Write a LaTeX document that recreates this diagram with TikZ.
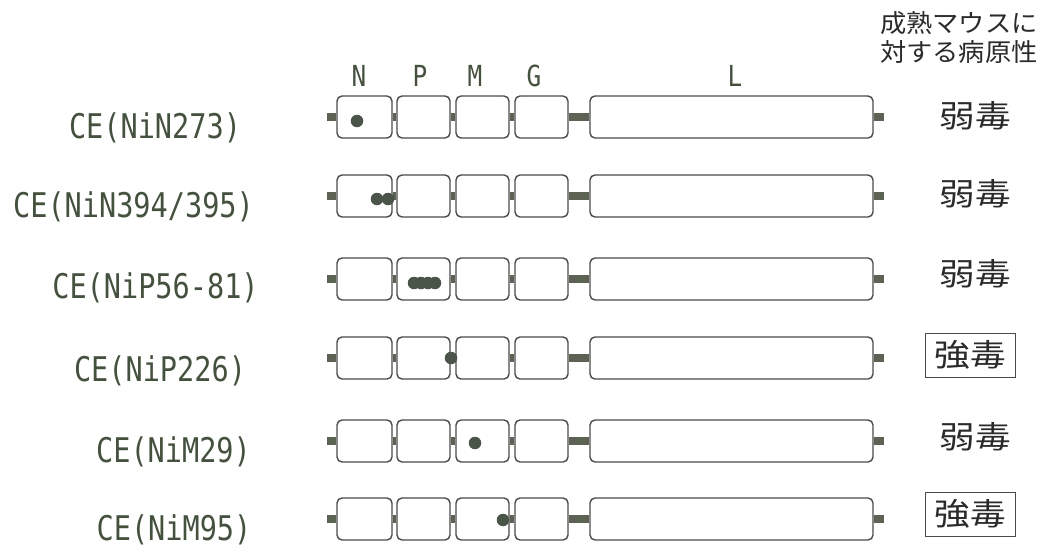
\documentclass[tikz,border=0pt]{standalone}
\usepackage{fontspec}
\usepackage{graphicx}
\usetikzlibrary{backgrounds}
\newfontfamily\monof{DejaVu Sans Mono}
\newfontfamily\cjkf{Noto Sans CJK JP}
\definecolor{boxc}{HTML}{4A4A4A}
\definecolor{stubc}{HTML}{5C6254}
\definecolor{dotc}{HTML}{4B5449}
\definecolor{labc}{HTML}{45513F}
\definecolor{cjkc}{HTML}{2A2A2A}
\newcommand\mylab[1]{\scalebox{0.84}[1]{#1}}
\newcommand\mycjk[1]{\scalebox{1.15}[1]{#1}}
\newcommand\myhead[1]{\scalebox{1.05}[1]{#1}}
\tikzset{
  gene/.style={draw=boxc, line width=1.4pt, rounded corners=5pt, fill=white,
               minimum height=42pt, inner sep=0pt},
  stub/.style={draw=stubc, line width=8pt},
  dotm/.style={circle, fill=dotc, inner sep=0pt, minimum size=12.5pt},
  lab/.style={text=labc, font=\monof\fontsize{34}{34}\selectfont, inner sep=0pt},
  hdr/.style={text=labc, font=\monof\fontsize{29}{29}\selectfont, inner sep=0pt},
  tox/.style={text=cjkc, font=\cjkf\fontsize{31}{31}\selectfont, inner sep=0pt},
  toxbox/.style={draw=boxc, line width=0.9pt, minimum width=90pt, minimum height=44pt},
  head/.style={text=cjkc, font=\cjkf\fontsize{25}{25}\selectfont, inner sep=0pt, anchor=west}
}
\newcommand\genome[2]{%
  \node[gene, minimum width=55pt] (N#1) at (364.5,#2) {};
  \node[gene, minimum width=53pt] (P#1) at (423.5,#2) {};
  \node[gene, minimum width=53pt] (M#1) at (482.5,#2) {};
  \node[gene, minimum width=53pt] (G#1) at (541.5,#2) {};
  \node[gene, minimum width=283pt] (L#1) at (731.5,#2) {};
  \coordinate (a#1) at (327,#2);
  \coordinate (b#1) at (884,#2);
  \begin{scope}[on background layer]
    \draw[stub] (a#1) -- (N#1.west);
    \draw[stub] (N#1.east) -- (P#1.west);
    \draw[stub] (P#1.east) -- (M#1.west);
    \draw[stub] (M#1.east) -- (G#1.west);
    \draw[stub] (G#1.east) -- (L#1.west);
    \draw[stub] (L#1.east) -- (b#1);
  \end{scope}
}
\begin{document}
\begin{tikzpicture}[x=1pt,y=-1pt]
\begin{scope}[on background layer]
\fill[white] (0,0) rectangle (1041,549);
\end{scope}
\useasboundingbox (0,0) rectangle (1041,549);

% header
\node[head] (h1) at (880,23) {\myhead{成熟マウスに}};
\node[head] (h2) at (880,52) {\myhead{対する病原性}};
\node[hdr] (hN) at (359,76) {\mylab{N}};
\node[hdr] (hP) at (420,76) {\mylab{P}};
\node[hdr] (hM) at (475,76) {\mylab{M}};
\node[hdr] (hG) at (534,76) {\mylab{G}};
\node[hdr] (hL) at (735,76) {\mylab{L}};

% rows
\genome{1}{117}
\genome{2}{196}
\genome{3}{279}
\genome{4}{358}
\genome{5}{441}
\genome{6}{519}

% labels
\node[lab] (l1) at (155,128) {\mylab{CE(NiN273)}};
\node[lab] (l2) at (133.5,207) {\mylab{CE(NiN394/395)}};
\node[lab] (l3) at (155.5,288) {\mylab{CE(NiP56-81)}};
\node[lab] (l4) at (160,371) {\mylab{CE(NiP226)}};
\node[lab] (l5) at (173.5,452) {\mylab{CE(NiM29)}};
\node[lab] (l6) at (174,530) {\mylab{CE(NiM95)}};

% dots (mutation sites)
\node[dotm] (d1) at (357,121) {};
\node[dotm] (d2a) at (377,199) {};
\node[dotm] (d2b) at (388,199) {};
\node[dotm] (d3a) at (414,283) {};
\node[dotm] (d3b) at (421,283) {};
\node[dotm] (d3c) at (428,283) {};
\node[dotm] (d3d) at (435,283) {};
\node[dotm] (d4) at (451,358) {};
\node[dotm] (d5) at (475,443) {};
\node[dotm] (d6) at (503,520) {};

% pathogenicity
\node[tox] (t1) at (975,116) {\mycjk{弱毒}};
\node[tox] (t2) at (975,194) {\mycjk{弱毒}};
\node[tox] (t3) at (975,274) {\mycjk{弱毒}};
\node[tox] (t4) at (970,355) {\mycjk{強毒}};
\node[toxbox] (bx4) at (970,355) {};
\node[tox] (t5) at (975,437) {\mycjk{弱毒}};
\node[tox] (t6) at (970,514) {\mycjk{強毒}};
\node[toxbox] (bx6) at (970,514) {};
\end{tikzpicture}
\end{document}
